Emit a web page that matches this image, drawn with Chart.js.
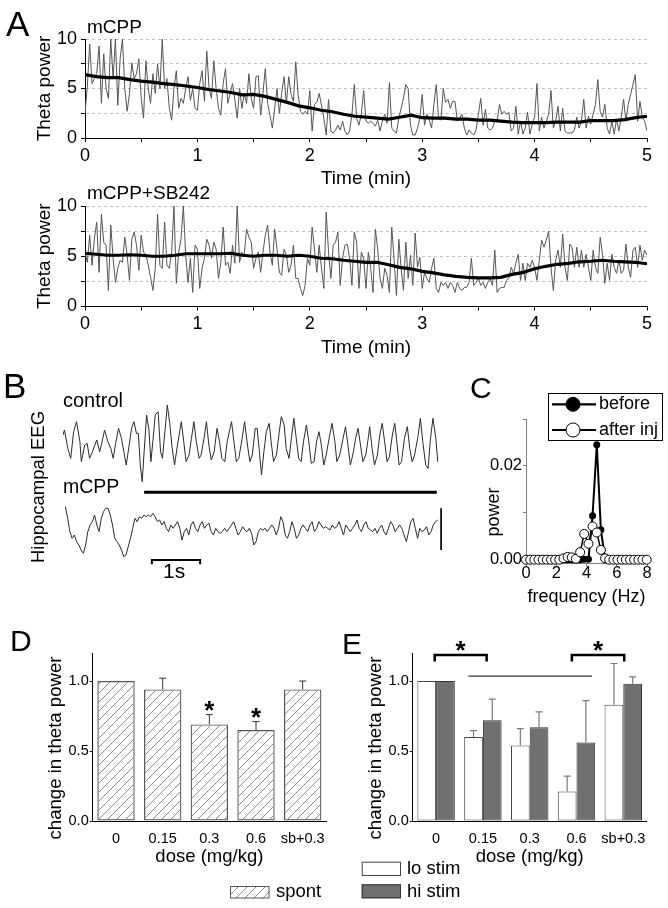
<!DOCTYPE html>
<html>
<head>
<meta charset="utf-8">
<script src="https://cdn.jsdelivr.net/npm/chart.js@4.4.1/dist/chart.umd.min.js"></script>
<style>
html,body{margin:0;padding:0;background:#fff;}
#page{position:relative;width:668px;height:908px;overflow:hidden;font-family:'Liberation Sans',Arial,sans-serif;color:#000;}
#page canvas{position:absolute;left:0;top:0;}
.t{position:absolute;white-space:nowrap;line-height:1;z-index:2;}
.rc{position:absolute;white-space:nowrap;line-height:1;z-index:2;transform:translate(-50%,-50%) rotate(-90deg);}
</style>
</head>
<body>
<div id="page">
  <div class="t" style="left:6px;top:5.5px;font-size:35px">A</div>
  <div class="t" style="left:87px;top:17px;font-size:19px">mCPP</div>
  <div class="t" style="left:87px;top:182.5px;font-size:19px">mCPP+SB242</div>
  <div class="t" style="left:3px;top:367.5px;font-size:35px">B</div>
  <div class="t" style="left:63px;top:390px;font-size:20px">control</div>
  <div class="t" style="left:63px;top:476.5px;font-size:19.5px">mCPP</div>
  <div class="rc" style="left:38px;top:487px;font-size:18.5px">Hippocampal EEG</div>
  <div class="t" style="left:163px;top:560px;font-size:21px">1s</div>
  <div class="t" style="left:470px;top:373px;font-size:30px">C</div>
  <div class="rc" style="left:493px;top:512px;font-size:18px">power</div>
  <div class="t" style="left:10px;top:626px;font-size:30px">D</div>
  <div class="rc" style="left:55px;top:748px;font-size:18.6px">change in theta power</div>
  <div class="t" style="left:342px;top:629px;font-size:30px">E</div>
  <div class="rc" style="left:375px;top:748px;font-size:18.6px">change in theta power</div>
</div>
<script>
// ---- panel A: theta power over time (samples every 1.25 s, smooth every 0.1 min)
const aTopRaw = [
  2.5,5.2,9.5,5.5,6,6.5,9.3,3.5,8.5,5,
  4,10,6,10,3.3,8,10,5,2.7,4.5,
  7.6,6,6.5,8,4,2,7.8,5,3.5,6.5,
  4.5,7.5,5,10,5,6,3,1.8,5,6.8,
  3,4,3.5,5,6.2,3.8,5,3,2.8,5.5,
  6.8,3.7,8.8,5,4,7.8,5,3,2.3,5.5,
  7,3.5,4.5,5.5,3.8,2,5,3,4.5,3.5,
  6.5,4,3,6.2,6.3,2.3,4.5,7,3.5,2.3,
  1,3,5,2.5,4.5,6.2,3.5,
  6.2,4.4,3.7,7.7,4.4,2.7,2.4,2.7,2.4,4.8,
  0.7,3.4,3.6,4.5,3.3,2,0.3,3.9,0.7,
  0.5,0.8,1.3,0.8,1.7,0.7,0.3,0.7,2.4,5.4,
  2,1.3,2.4,4.8,1.7,1.5,1.7,1.5,1.2,
  1.8,0.7,1.7,2.4,1.5,5.6,1,0.7,0.5,
  2,3,4,5.4,5,1.3,0.3,0.3,1,
  2,4.4,1.3,2.4,1.8,1,3.4,5.4,2,1.8,
  5,3.6,3.9,3,3.7,3.7,1.7,2,2.4,1,
  0.3,0.8,0.5,0.3,0.8,2.4,4,1.3,2.9,
  1,0.8,1,1.7,1.7,3.4,2.4,2.7,2.4,
  2.6,0.7,1,3.2,0.4,1.7,0.4,1,2.6,0.4,
  1.4,2.1,5.5,0.7,2.1,1,1.7,2.4,4.8,1,
  1.7,3.2,0.7,3,0.7,0.5,0.5,
  0.5,0.8,2.1,1,1.7,3.9,1,2.2,1.4,2.4,
  3.4,5.9,2.7,2.1,3.4,1,0.4,1.7,0.4,
  1.9,0.7,2.1,3.9,1.7,3.4,4.4,5.4,6.4,1.7,
  3.7,2.1,1.7,0.7
];
const aTopSmooth = [
  6.4,6.2,6.1,6.1,5.9,5.75,5.65,5.5,5.4,5.25,
  5.1,4.9,4.75,4.6,4.35,4.4,4.2,3.9,3.6,3.25,
  3.05,2.8,2.65,2.4,2.2,2.1,2.0,1.9,2.1,2.3,
  2.05,2.0,2.0,1.9,1.9,1.8,1.8,1.7,1.6,1.55,
  1.55,1.55,1.6,1.6,1.6,1.75,1.75,1.75,1.85,2.05,
  2.2
];
const aBotRaw = [
  5.4,4.4,7.1,4.1,6.7,8.4,3.4,9.2,6.4,6.1,
  1.6,8.1,4.8,2.4,3.8,4.6,4.4,6.9,5.1,2.6,
  6.7,7.4,6.1,3.6,7.1,5.4,5.2,4.1,2.9,1.6,
  3.8,9.2,4.1,3.8,8.4,4.1,3.8,5.4,10,2.3,
  5.4,6.7,10,5.1,2.4,4.8,1.4,6.1,5.7,1.8,
  3.8,4.8,6.7,6.1,4.8,6.4,5.7,2.8,4.4,7.9,
  4.1,4.4,3.3,6.1,4.3,10,4.4,5.4,5.1,7.7,
  6.9,6.4,3.8,4.8,5.4,3.4,5.4,7.1,8.1,5.4,
  4.1,7.7,5.7,3.4,3.1,5.7,5.1,
  3.4,4.1,6.1,2.8,2.8,1.8,1.1,2.1,4.8,4.1,
  7.9,5.7,3.4,6.1,3.8,1.8,9.4,5.4,2.8,6.1,
  6.4,7.4,2.1,4.8,6.1,6.2,4.8,2.1,7.4,6.4,
  1.8,5.4,4.8,1.8,5.4,3.8,1.4,7.7,5.7,2.8,
  1.8,3.8,3.1,1.4,7.9,4.6,1.1,6.7,3.8,1.6,
  6.4,2.8,5.1,2.1,7.3,3.9,4.9,1.8,3.4,2.8,
  2.4,3.8,4.8,1.8,1.4,2.4,2.1,2.4,1.8,2.4,
  2.1,1.4,2.4,1.8,1.6,1.9,1.9,2.4,4.8,2.1,
  2.4,2.8,2.1,2.4,1.8,2.4,2.8,2.1,5.6,1.4,
  1.8,1.9,1.9,2.6,
  2.8,3.9,3.3,4.3,5.2,2.6,4.3,2.6,4.3,3.9,
  4.6,3.9,2.6,4.6,6.6,5.9,6.6,7.5,3.9,1.6,
  4.6,5.6,3.9,7.2,3.9,2.6,6.2,5.9,3.9,5.9,
  3.9,5.6,3.9,5.2,3.9,2.6,5.6,3.9,3.3,6.9,
  5.2,2.3,4.3,2.6,5.2,3.9,3.3,4.6,3.3,3.6,
  6.2,3.9,2.9,5.6,5.9,3.9,6.1,4.6,5.6,5.1
];
const aBotSmooth = [
  5.3,5.2,5.1,5.1,5.15,5.1,5.0,5.0,5.1,5.25,
  5.25,5.25,5.25,5.3,5.1,5.0,5.1,5.1,5.0,5.1,
  5.0,4.8,4.75,4.6,4.5,4.4,4.4,4.15,3.9,3.75,
  3.5,3.35,3.15,3.0,2.9,2.85,2.85,2.9,3.2,3.4,
  3.75,4.0,4.2,4.3,4.45,4.5,4.6,4.5,4.45,4.4,
  4.25
];
const A_MINUTES = 5;

// ---- panel B: hippocampal EEG (seconds, mV)
const bCtrlT = [
  0,0.03,0.1,0.16,0.22,0.28,0.35,0.38,0.45,0.5,
  0.55,0.61,0.66,0.7,0.76,0.81,0.86,0.93,0.99,1.04,
  1.09,1.15,1.21,1.26,1.31,1.37,1.42,1.47,1.52,1.56,
  1.6,1.64,1.68,1.73,1.78,1.82,1.86,1.91,1.97,2.02,
  2.06,2.11,2.16,2.21,2.26,2.31,2.37,2.45,2.5,2.55,
  2.61,2.66,2.71,2.76,2.82,2.86,2.92,2.97,3.02,3.07,
  3.13,3.19,3.24,3.29,3.35,3.4,3.49,3.54,3.59,3.64,
  3.71,3.76,3.82,3.87,3.92,3.98,4.02,4.06,4.11,4.16,
  4.21,4.27,4.31,4.36,4.42,4.47,4.52,4.58,4.62,4.68,
  4.73,4.78,4.83,4.88,4.93,4.98,5.04,5.09,5.14,5.2,
  5.25,5.3,5.35,5.4,5.45,5.51,5.57,5.63,5.67,5.73,
  5.8,5.85,5.9,5.95,6,6.06,6.11,6.16,6.21,6.27,
  6.32,6.35,6.4,6.45,6.51,6.56,6.61,6.66,6.71,6.76,
  6.82,6.87,6.92,6.96,7.01,7.07,7.13,7.18,7.23,7.28,
  7.35,7.4,7.45,7.51,7.56,7.61,7.66,7.72,7.76
];
const bCtrl = [
  0.2,0.35,-0.2,-0.5,0.3,0.6,0,-0.6,-0.1,-0.05,
  -0.5,-0.3,-0.1,0.05,-0.3,0,0.35,0,-0.2,-0.5,
  -0.05,0.4,0.1,-0.3,-0.7,-0.1,0.4,0.6,0.25,0.25,
  -0.7,-1.2,-0.3,0.8,0.35,-0.6,0,0.8,0.9,-0.3,
  -0.5,0.3,1.1,0.55,-0.2,-0.7,-0.1,0.6,0,-0.6,
  -0.4,0.1,0.6,0,-0.5,-0.4,0.1,0.6,-0.1,-0.55,
  -0.3,0.4,0,-0.5,-0.6,0,0.6,0,-0.6,-0.5,
  0.1,0.6,-0.1,-0.6,-0.4,0.4,0.4,-0.2,-1.0,-0.3,
  0.3,0.55,0,-0.6,-0.4,0.2,0.75,0.5,-0.2,-0.5,
  0.1,0.7,0.1,-0.5,-0.6,0,0.5,0,-0.65,-0.6,
  0,0.3,-0.1,-0.7,-0.4,0.1,0.55,0,-0.6,-0.4,
  0.1,0.45,-0.1,-0.7,-0.4,0.1,0.4,-0.1,-0.6,-0.4,
  0.1,0.45,-0.2,-0.7,-0.4,0.2,0.55,0,-0.6,-0.45,
  0.2,0.55,-0.1,-0.7,-0.6,0.1,0.45,-0.2,-0.6,-0.4,
  0.15,0.7,0,-0.7,-0.8,0.1,0.7,0.1,-0.6
];
const bMcpp = [
  0.65,0.3,-0.1,-0.3,-0.2,-0.4,-0.5,-0.65,-0.75,-0.5,
  -0.1,0.1,0.2,0.4,0.1,-0.1,0.3,0.5,0.6,0.6,
  0.4,0.1,-0.3,-0.4,-0.5,-0.65,-0.85,-0.8,-0.55,-0.3,
  0,0.3,0.2,0.35,0.3,0.4,0.35,0.4,0.35,0.45,
  0.35,0.2,0.25,0.1,0.2,0,-0.1,0.1,0,0.1,
  0.2,0,-0.35,-0.1,0,-0.2,0.1,0.2,0,-0.1,
  0.1,0.2,0,0.1,0.15,-0.1,-0.2,0,-0.1,-0.15,
  -0.1,0,-0.1,0,0.1,0.2,0,-0.2,-0.1,0.05,
  -0.05,-0.1,0,-0.15,-0.5,-0.4,-0.1,0,-0.05,0,
  -0.1,0,0.1,0,-0.2,0,0.35,0.2,-0.2,-0.3,
  -0.1,0.2,0,-0.3,-0.2,0,0.1,0,-0.1,0.1,
  0.2,-0.1,0,0.2,0.1,0,0.05,0,-0.05,0.1,
  0,0.05,0.2,0,-0.2,0.1,0,-0.1,0,0.1,
  0.25,0,-0.1,0.1,0.2,0,-0.05,-0.1,0,-0.15,
  0,0.1,-0.1,-0.2,0,0.2,0.1,-0.1,0,0.1,
  0,-0.2,-0.4,-0.1,0.2,0.3,0,-0.3,0,-0.1,
  -0.05,0.05,-0.2,-0.1,0.1,0.2,0.25
];
const bMcppSpan = [0.05, 7.76];      // s, first and last mCPP sample
const bInjBar = [1.68, 7.74, 1.08];  // t0, t1, level
const bTimeBar = [1.84, 2.84, -0.95, -1.08];
const bVoltBar = [7.83, 0.6, -0.65];
const B_CTRL_OFFSET = 2.6;

// ---- panel C: power spectrum
const cFreq = [0,0.28,0.55,0.83,1.1,1.38,1.65,1.93,2.2,2.48,
  2.75,3.03,3.3,3.58,3.85,4.13,4.4,4.68,4.95,5.23,
  5.5,5.78,6.05,6.33,6.6,6.88,7.15,7.43,7.7,7.98];
const cBefore = [0,0,0,0,0,0,0,0,0,0,
  0,0,0,0,0.0001,0.0001,0.0094,0.0245,0.0064,0.0001,
  0,0,0,0,0,0,0,0,0,0];
const cAfter = [0,0,0,0,0,0,0,0,0,0.0003,
  0.0006,0.0005,0.0002,0.0016,0.0055,0.0034,0.0071,0.0058,0.0021,0.0003,
  0,0,0,0,0,0,0,0,0,0];

// ---- panels D, E: change in theta power
const doses = ['0','0.15','0.3','0.6','sb+0.3'];
const spont = [1.0,0.94,0.69,0.65,0.94];
const spontErr = [0,0.08,0.07,0.06,0.06];
const spontSig = [false,false,true,true,false];
const loStim = [1.0,0.60,0.54,0.21,0.83];
const loErr = [0,0.045,0.12,0.11,0.295];
const hiStim = [1.0,0.72,0.67,0.56,0.98];
const hiErr = [0,0.15,0.11,0.30,0.05];
const eSigPairs = [[-0.03,1.08],[2.9,4.02]];
const eSpan = [0.69,3.33,1.035];

// =========================
const FONT = "'Liberation Sans', Arial, sans-serif";
const PW = 668, PH = 908;

Chart.defaults.font.family = FONT;
Chart.defaults.color = '#000';
Chart.defaults.animation = false;
Chart.defaults.events = [];
Chart.defaults.plugins.legend.display = false;
Chart.defaults.plugins.tooltip.enabled = false;

function makeCanvas(){
  const c = document.createElement('canvas');
  c.width = PW;
  c.height = PH;
  document.getElementById('page').appendChild(c);
  return c;
}

// plot rectangle in page pixels -> layout padding
function frame(b){
  return { padding:{ left:b.L - b.yW, top:b.T, right:PW - b.R, bottom:PH - b.B - b.xH } };
}

function star(ctx, x, cy, size){
  ctx.font = `bold ${size}px ${FONT}`;
  ctx.textAlign = 'center';
  ctx.textBaseline = 'alphabetic';
  ctx.fillStyle = '#000';
  ctx.fillText('*', x, cy + size * 0.56);
}

const errorBars = {
  id:'errorBars',
  afterDatasetsDraw(chart, args, o){
    const ctx = chart.ctx, ys = chart.scales.y;
    ctx.save();
    chart.data.datasets.forEach((ds, di) => {
      if (!ds.errors) return;
      chart.getDatasetMeta(di).data.forEach((bar, i) => {
        const top = ys.getPixelForValue(ds.data[i] + ds.errors[i]);
        if (ds.errors[i] > 0) {
          ctx.strokeStyle = o.color;
          ctx.lineWidth = o.width;
          ctx.beginPath();
          ctx.moveTo(bar.x, bar.y);
          ctx.lineTo(bar.x, top);
          ctx.moveTo(bar.x - o.cap, top);
          ctx.lineTo(bar.x + o.cap, top);
          ctx.stroke();
        }
        if (ds.sig && ds.sig[i]) star(ctx, bar.x, top - o.starGap, o.starSize);
      });
    });
    ctx.restore();
  }
};

const brackets = {
  id:'brackets',
  afterDatasetsDraw(chart, args, o){
    const ctx = chart.ctx, xs = chart.scales.x, ys = chart.scales.y;
    ctx.save();
    ctx.strokeStyle = '#000';
    o.pairs.forEach(p => {
      const x0 = xs.getPixelForValue(p[0]), x1 = xs.getPixelForValue(p[1]);
      const yy = ys.getPixelForValue(o.level), yt = ys.getPixelForValue(o.level - o.drop);
      ctx.lineWidth = 2.5;
      ctx.beginPath();
      ctx.moveTo(x0, yt); ctx.lineTo(x0, yy); ctx.lineTo(x1, yy); ctx.lineTo(x1, yt);
      ctx.stroke();
      star(ctx, (x0 + x1) / 2, yy - o.starGap, o.starSize);
    });
    const s = o.span;
    ctx.lineWidth = 1;
    ctx.beginPath();
    ctx.moveTo(xs.getPixelForValue(s[0]), ys.getPixelForValue(s[2]));
    ctx.lineTo(xs.getPixelForValue(s[1]), ys.getPixelForValue(s[2]));
    ctx.stroke();
    ctx.restore();
  }
};

const boxLegend = {
  id:'boxLegend',
  afterDraw(chart, args, o){
    const ctx = chart.ctx;
    ctx.save();
    ctx.font = `${o.size}px ${FONT}`;
    ctx.textBaseline = 'middle';
    ctx.textAlign = 'left';
    o.items.forEach(it => {
      const ds = chart.data.datasets[it.ds];
      const [x0, y0, x1, y1] = it.box;
      ctx.fillStyle = ds.backgroundColor;
      ctx.fillRect(x0, y0, x1 - x0, y1 - y0);
      ctx.strokeStyle = ds.borderColor;
      ctx.lineWidth = 1;
      ctx.strokeRect(x0 + 0.5, y0 + 0.5, x1 - x0 - 1, y1 - y0 - 1);
      ctx.fillStyle = '#000';
      ctx.fillText(ds.label, it.tx, it.ty);
    });
    ctx.restore();
  }
};

const lineLegend = {
  id:'lineLegend',
  afterDraw(chart, args, o){
    const ctx = chart.ctx;
    const [x0, y0, x1, y1] = o.box;
    ctx.save();
    ctx.fillStyle = '#fff';
    ctx.fillRect(x0, y0, x1 - x0, y1 - y0);
    ctx.strokeStyle = '#000';
    ctx.lineWidth = 1;
    ctx.strokeRect(x0 + 0.5, y0 + 0.5, x1 - x0, y1 - y0);
    ctx.font = `${o.size}px ${FONT}`;
    ctx.textBaseline = 'middle';
    ctx.textAlign = 'left';
    o.rows.forEach(r => {
      const ds = chart.data.datasets[r.ds];
      ctx.strokeStyle = '#000';
      ctx.lineWidth = 2.2;
      ctx.beginPath();
      ctx.moveTo(o.lineX[0], r.y);
      ctx.lineTo(o.lineX[1], r.y);
      ctx.stroke();
      ctx.beginPath();
      ctx.arc(o.markX, r.y, o.r, 0, Math.PI * 2);
      ctx.fillStyle = ds.pointBackgroundColor;
      ctx.fill();
      ctx.lineWidth = 1;
      ctx.stroke();
      ctx.fillStyle = '#000';
      ctx.fillText(ds.label, o.textX, r.y);
    });
    ctx.restore();
  }
};

function hatchPattern(){
  const c = document.createElement('canvas');
  c.width = 9; c.height = 9;
  const g = c.getContext('2d');
  g.strokeStyle = '#8a8a8a';
  g.lineWidth = 1;
  g.beginPath();
  g.moveTo(-1, 10); g.lineTo(10, -1);
  g.moveTo(-1, 1); g.lineTo(1, -1);
  g.moveTo(8, 10); g.lineTo(10, 8);
  g.stroke();
  return g.createPattern(c, 'repeat');
}

// ---- A
function traceChart(b, raw, smooth){
  const n = raw.length, m = smooth.length;
  new Chart(makeCanvas(), {
    type:'line',
    data:{
      datasets:[
        { data:smooth.map((v,i) => ({x:i * A_MINUTES / (m - 1), y:v})),
          borderColor:'#000', borderWidth:3.2, pointRadius:0 },
        { data:raw.map((v,i) => ({x:i * A_MINUTES / (n - 1), y:v})),
          borderColor:'#555', borderWidth:1, pointRadius:0 }
      ]
    },
    options:{
      responsive:false,
      layout:frame(b),
      scales:{
        x:{
          type:'linear', min:0, max:A_MINUTES,
          afterFit:s => { s.height = b.xH; },
          ticks:{ stepSize:0.5, autoSkip:false, maxRotation:0, padding:3, font:{size:18},
            callback:v => Number.isInteger(v) ? String(v) : '' },
          grid:{ drawOnChartArea:false, tickLength:4, color:'#000' },
          border:{ color:'#000' },
          title:{ display:true, text:'Time (min)', font:{size:19}, padding:0 }
        },
        y:{
          min:0, max:10,
          afterFit:s => { s.width = b.yW; },
          ticks:{ stepSize:2.5, padding:4, font:{size:18},
            callback:v => v % 5 === 0 ? String(v) : '' },
          grid:{ color:c => c.tick && c.tick.value > 0 ? '#c2c2c2' : 'rgba(0,0,0,0)',
            tickColor:'#000', tickLength:4 },
          border:{ color:'#000', dash:[3,3] },
          title:{ display:true, text:'Theta power', font:{size:19}, padding:0 }
        }
      }
    }
  });
}

traceChart({L:85, T:39, R:647, B:138, yW:51.4, xH:52.4}, aTopRaw, aTopSmooth);
traceChart({L:85, T:206, R:647, B:306.5, yW:51.4, xH:52.4}, aBotRaw, aBotSmooth);

// ---- B
const mcppStep = (bMcppSpan[1] - bMcppSpan[0]) / (bMcpp.length - 1);
new Chart(makeCanvas(), {
  type:'line',
  data:{
    datasets:[
      { data:bCtrlT.map((t,i) => ({x:t, y:bCtrl[i] + B_CTRL_OFFSET})),
        borderColor:'#2a2a2a', borderWidth:1, pointRadius:0 },
      { data:bMcpp.map((v,i) => ({x:bMcppSpan[0] + i * mcppStep, y:v})),
        borderColor:'#2a2a2a', borderWidth:1, pointRadius:0 },
      { data:[{x:bInjBar[0], y:bInjBar[2]}, {x:bInjBar[1], y:bInjBar[2]}],
        borderColor:'#000', borderWidth:3, pointRadius:0 },
      { data:[{x:bTimeBar[0], y:bTimeBar[3]}, {x:bTimeBar[0], y:bTimeBar[2]},
              {x:bTimeBar[1], y:bTimeBar[2]}, {x:bTimeBar[1], y:bTimeBar[3]}],
        borderColor:'#000', borderWidth:2, pointRadius:0 },
      { data:[{x:bVoltBar[0], y:bVoltBar[1]}, {x:bVoltBar[0], y:bVoltBar[2]}],
        borderColor:'#000', borderWidth:1, pointRadius:0 }
    ]
  },
  options:{
    responsive:false,
    layout:frame({L:63, T:395, R:445, B:580, yW:0, xH:0}),
    scales:{
      x:{ type:'linear', display:false, min:0, max:7.91 },
      y:{ display:false, min:-1.55, max:4.0 }
    }
  }
});

// ---- C
const cBox = {L:526, T:419, R:647, B:563, yW:40, xH:44.8};
new Chart(makeCanvas(), {
  type:'line',
  data:{
    datasets:[
      { label:'before', data:cFreq.map((f,i) => ({x:f, y:cBefore[i]})),
        borderColor:'#000', borderWidth:2, pointRadius:2.5,
        pointBackgroundColor:'#000', pointBorderColor:'#000', clip:false, order:1 },
      { label:'after inj', data:cFreq.map((f,i) => ({x:f, y:cAfter[i]})),
        borderColor:'#000', borderWidth:1.5, pointRadius:4.5, pointBorderWidth:1,
        pointBackgroundColor:'#fff', pointBorderColor:'#000', clip:false, order:0 }
    ]
  },
  options:{
    responsive:false,
    layout:frame(cBox),
    scales:{
      x:{
        type:'linear', min:0, max:8,
        afterFit:s => { s.height = cBox.xH; },
        ticks:{ stepSize:2, maxRotation:0, padding:-2, font:{size:16.5} },
        grid:{ drawOnChartArea:false, tickLength:3, color:'#808080' },
        border:{ color:'#808080' },
        title:{ display:true, text:'frequency (Hz)', font:{size:18}, padding:0 }
      },
      y:{
        min:-0.0007, max:0.03,
        afterFit:s => { s.width = cBox.yW; },
        ticks:{ stepSize:0.01, includeBounds:false, padding:1, font:{size:16.5},
          callback:v => (Math.abs(v) < 1e-9 || Math.abs(v - 0.02) < 1e-9) ? v.toFixed(2) : '' },
        grid:{ drawOnChartArea:false, tickLength:3, color:'#808080' },
        border:{ color:'#808080' }
      }
    },
    plugins:{
      lineLegend:{ box:[548,393,662,440], size:18, lineX:[552,596], markX:573, r:7, textX:599,
        rows:[{ds:0, y:404.3}, {ds:1, y:430}] }
    }
  },
  plugins:[lineLegend]
});

// ---- D
function doseScales(b){
  return {
    x:{
      afterFit:s => { s.height = b.xH; },
      ticks:{ maxRotation:0, autoSkip:false, padding:1, font:{size:14.5} },
      grid:{ display:false },
      border:{ color:'#000' },
      title:{ display:true, text:'dose (mg/kg)', font:{size:18.5}, padding:0 }
    },
    y:{
      min:0, max:1.2,
      afterFit:s => { s.width = b.yW; },
      ticks:{ stepSize:0.5, includeBounds:false, padding:1, font:{size:14.5},
        callback:v => v.toFixed(1) },
      grid:{ drawOnChartArea:false, tickLength:3, color:'#000' },
      border:{ color:'#000' }
    }
  };
}

const dBox = {L:92.7, T:653, R:326, B:821, yW:40, xH:47.1};
new Chart(makeCanvas(), {
  type:'bar',
  data:{
    labels:doses,
    datasets:[
      { label:'spont', data:spont, errors:spontErr, sig:spontSig,
        backgroundColor:hatchPattern(), borderColor:'#555', borderWidth:1.2,
        borderSkipped:false, barPercentage:0.8, categoryPercentage:1 }
    ]
  },
  options:{
    responsive:false,
    layout:frame(dBox),
    scales:doseScales(dBox),
    plugins:{
      errorBars:{ color:'#333', width:1, cap:3.5, starGap:10, starSize:26 },
      boxLegend:{ size:18.5, items:[{ds:0, box:[230,886,269.5,898.5], tx:276, ty:892}] }
    }
  },
  plugins:[errorBars, boxLegend]
});

// ---- E
const eBox = {L:412.7, T:653, R:646.7, B:821, yW:40, xH:47.1};
new Chart(makeCanvas(), {
  type:'bar',
  data:{
    labels:doses,
    datasets:[
      { label:'lo stim', data:loStim, errors:loErr,
        backgroundColor:'#ffffff', borderColor:'#444', borderWidth:1,
        borderSkipped:false, barPercentage:1, categoryPercentage:0.8 },
      { label:'hi stim', data:hiStim, errors:hiErr,
        backgroundColor:'#707070', borderColor:'#333', borderWidth:1,
        borderSkipped:false, barPercentage:1, categoryPercentage:0.8 }
    ]
  },
  options:{
    responsive:false,
    layout:frame(eBox),
    scales:doseScales(eBox),
    plugins:{
      errorBars:{ color:'#7a7a7a', width:1.2, cap:3.5, starGap:10, starSize:26 },
      brackets:{ pairs:eSigPairs, level:1.185, drop:0.045, starGap:10.3, starSize:26, span:eSpan },
      boxLegend:{ size:18.5, items:[
        {ds:0, box:[361.7,861.7,401,876], tx:407, ty:869},
        {ds:1, box:[361.7,884.3,401,898.3], tx:407, ty:891.5}
      ] }
    }
  },
  plugins:[errorBars, brackets, boxLegend]
});
</script>
</body>
</html>
